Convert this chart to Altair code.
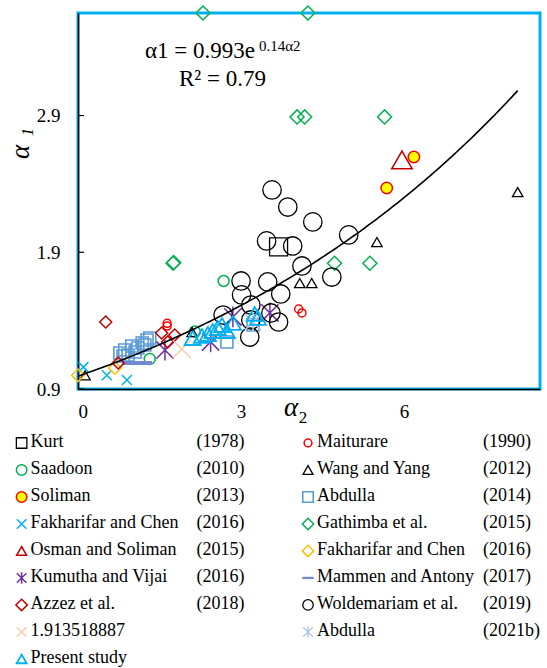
import numpy as np
import pandas as pd
import altair as alt

FONT = "Liberation Serif"

# ---------------- measured (alpha2, alpha1) pairs per source ----------------
KURT_A2 = [3.69]
KURT_A1 = [1.94]

MAITURARE_A2 = [4.06, 4.12, 1.64, 1.64]
MAITURARE_A1 = [1.485, 1.456, 1.38, 1.36]

SAADOON_A2 = [2.68, 1.32, 2.15]
SAADOON_A1 = [1.69, 1.12, 1.32]

WANG_A2 = [8.09, 5.50, 4.08, 4.30, 2.10, 0.13]
WANG_A1 = [2.34, 1.975, 1.675, 1.675, 1.317, 1.0]

SOLIMAN_A2 = [6.18, 5.68]
SOLIMAN_A1 = [2.597, 2.37]

ABDULLA14_A2 = [0.77, 0.86, 0.99, 1.10, 1.18, 1.27, 1.32, 0.83, 0.92, 1.05, 1.23, 2.74, 3.22]
ABDULLA14_A1 = [1.163, 1.185, 1.215, 1.20, 1.236, 1.258, 1.273, 1.141, 1.149, 1.171, 1.222, 1.244, 1.368]

FAKH_X_A2 = [0.10, 0.53, 0.90]
FAKH_X_A1 = [1.06, 1.00, 0.966]

GATHIMBA_A2 = [2.30, 4.23, 4.03, 4.17, 5.64, 1.75, 1.76, 4.72, 5.37]
GATHIMBA_A1 = [3.65, 3.65, 2.89, 2.89, 2.89, 1.82, 1.825, 1.82, 1.82]

OSMAN_A2 = [5.96]
OSMAN_A1 = [2.575]

FAKH_D_A2 = [0.0, 0.68]
FAKH_D_A1 = [1.0, 1.054]

KUMUTHA_A2 = [1.60, 2.44, 2.85, 3.53]
KUMUTHA_A1 = [1.185, 1.244, 1.427, 1.456]

MAMMEN_A2 = [0.99, 1.18]
MAMMEN_A1 = [1.09, 1.09]

AZZEZ_A2 = [0.51, 1.54, 1.78, 1.65, 0.74]
AZZEZ_A1 = [1.39, 1.31, 1.295, 1.244, 1.09]

WOLDE_A2 = [3.57, 3.86, 4.32, 3.47, 3.95, 4.98, 4.12, 4.67, 3.00,
            3.49, 3.01, 3.73, 3.18, 2.67, 3.55, 3.69, 3.18, 3.16]
WOLDE_A1 = [2.356, 2.231, 2.122, 1.983, 1.946, 2.027, 1.80, 1.719, 1.690,
            1.683, 1.588, 1.595, 1.514, 1.441, 1.456, 1.39, 1.405, 1.28]

PEACH_A2 = [1.91]
PEACH_A1 = [1.193]

ABDULLA21_A2 = [3.22]
ABDULLA21_A1 = [1.39]

PRESENT_A2 = [2.11, 2.28, 2.39, 2.48, 2.57, 2.65, 2.74, 2.85, 3.25, 3.31]
PRESENT_A1 = [1.273, 1.288, 1.302, 1.324, 1.346, 1.368, 1.324, 1.383, 1.449, 1.42]

# fitted trend: alpha1 = 0.993 * exp(0.14 * alpha2)
FIT_A = 0.993
FIT_B = 0.14
FIT_RANGE = [0.0, 8.09]

X_TICKS = [0, 3, 6]
Y_TICKS = [0.9, 1.9, 2.9]

# ---------------- marker styles ----------------
X_PATH = "M-1,-1L1,1M-1,1L1,-1"
STAR_PATH = "M-1,-1L1,1M-1,1L1,-1M0,-1.2L0,1.2"
BAR_PATH = "M-1,-0.2L1,-0.2L1,0.2L-1,0.2Z"

SERIES = [
    dict(name="Kurt", year="(1978)", col=0, row=0, a2=KURT_A2, a1=KURT_A1,
         shape="square", stroke="#000000", fill=None, size=324, lsize=110, sw=1.3),
    dict(name="Maiturare", year="(1990)", col=1, row=0, a2=MAITURARE_A2, a1=MAITURARE_A1,
         shape="circle", stroke="#FF0000", fill=None, size=64, lsize=60, sw=1.5),
    dict(name="Saadoon", year="(2010)", col=0, row=1, a2=SAADOON_A2, a1=SAADOON_A1,
         shape="circle", stroke="#00B050", fill=None, size=121, lsize=110, sw=1.5),
    dict(name="Wang and Yang", year="(2012)", col=1, row=1, a2=WANG_A2, a1=WANG_A1,
         shape="triangle-up", stroke="#000000", fill=None, size=110, lsize=100, sw=1.3),
    dict(name="Soliman", year="(2013)", col=0, row=2, a2=SOLIMAN_A2, a1=SOLIMAN_A1,
         shape="circle", stroke="#FF0000", fill="#FFFF00", size=130, lsize=110, sw=1.5),
    dict(name="Abdulla", year="(2014)", col=1, row=2, a2=ABDULLA14_A2, a1=ABDULLA14_A1,
         shape="square", stroke="#5B9BD5", fill=None, size=144, lsize=110, sw=1.6),
    dict(name="Fakharifar and Chen", year="(2016)", col=0, row=3, a2=FAKH_X_A2, a1=FAKH_X_A1,
         shape=X_PATH, stroke="#00B0F0", fill=None, size=100, lsize=90, sw=1.5),
    dict(name="Gathimba et al.", year="(2015)", col=1, row=3, a2=GATHIMBA_A2, a1=GATHIMBA_A1,
         shape="diamond", stroke="#00B050", fill=None, size=196, lsize=130, sw=1.5),
    dict(name="Osman and Soliman", year="(2015)", col=0, row=4, a2=OSMAN_A2, a1=OSMAN_A1,
         shape="triangle-up", stroke="#C00000", fill=None, size=420, lsize=100, sw=1.5),
    dict(name="Fakharifar and Chen", year="(2016)", col=1, row=4, a2=FAKH_D_A2, a1=FAKH_D_A1,
         shape="diamond", stroke="#FFC000", fill=None, size=160, lsize=130, sw=1.5),
    dict(name="Kumutha and Vijai", year="(2016)", col=0, row=5, a2=KUMUTHA_A2, a1=KUMUTHA_A1,
         shape=STAR_PATH, stroke="#7030A0", fill=None, size=300, lsize=90, sw=1.5),
    dict(name="Mammen and Antony", year="(2017)", col=1, row=5, a2=MAMMEN_A2, a1=MAMMEN_A1,
         shape=BAR_PATH, stroke=None, fill="#7289D0", size=400, lsize=130, sw=0),
    dict(name="Azzez et al.", year="(2018)", col=0, row=6, a2=AZZEZ_A2, a1=AZZEZ_A1,
         shape="diamond", stroke="#C00000", fill=None, size=144, lsize=130, sw=1.5),
    dict(name="Woldemariam et al.", year="(2019)", col=1, row=6, a2=WOLDE_A2, a1=WOLDE_A1,
         shape="circle", stroke="#000000", fill=None, size=340, lsize=110, sw=1.3),
    dict(name="1.913518887", year="", col=0, row=7, a2=PEACH_A2, a1=PEACH_A1,
         shape=X_PATH, stroke="#F8CBAD", fill=None, size=324, lsize=90, sw=1.5),
    dict(name="Abdulla", year="(2021b)", col=1, row=7, a2=ABDULLA21_A2, a1=ABDULLA21_A1,
         shape=STAR_PATH, stroke="#B4C7E7", fill=None, size=256, lsize=90, sw=1.5),
    dict(name="Present study", year="", col=0, row=8, a2=PRESENT_A2, a1=PRESENT_A1,
         shape="triangle-up", stroke="#00B0F0", fill=None, size=260, lsize=100, sw=1.8),
]

# ---------------- scales ----------------
XS = alt.Scale(domain=[0, 8.5], nice=False, zero=False)
YS = alt.Scale(domain=[0.9, 3.65], nice=False, zero=False)
X_AXIS = alt.Axis(values=X_TICKS, format="d", title=None, grid=False, ticks=False,
                  tickSize=0, labelPadding=13, labelFont=FONT, labelFontSize=19,
                  labelColor="#000000", domainColor="#000000", domainWidth=1.5)
Y_AXIS = alt.Axis(values=Y_TICKS, format=".1f", title=None, grid=False, ticks=False,
                  tickSize=0, labelPadding=18, labelFont=FONT, labelFontSize=19,
                  labelColor="#000000", domainColor="#000000", domainWidth=1.5)

# legend grid: column index across, row index downwards (below the plot)
LXS = alt.Scale(domain=[0.1969, 1.81], nice=False, zero=False)
LYS = alt.Scale(domain=[-15.93, -2.0], nice=False, zero=False, reverse=True)


def marker(s, size):
    kw = dict(shape=s["shape"], size=size, opacity=1)
    if s["fill"] is not None and s["stroke"] is not None:
        kw.update(filled=True, fill=s["fill"], stroke=s["stroke"], strokeWidth=s["sw"])
    elif s["fill"] is not None:
        kw.update(filled=True, fill=s["fill"], strokeWidth=0)
    else:
        kw.update(filled=False, stroke=s["stroke"], strokeWidth=s["sw"])
    return kw


# ---------------- plot layers ----------------
plot_layers = []
for s in SERIES:
    df = pd.DataFrame({"a2": s["a2"], "a1": s["a1"]})
    plot_layers.append(
        alt.Chart(df).mark_point(**marker(s, s["size"])).encode(
            x=alt.X("a2:Q", scale=XS, axis=X_AXIS),
            y=alt.Y("a1:Q", scale=YS, axis=Y_AXIS),
        )
    )

curve_x = np.linspace(FIT_RANGE[0], FIT_RANGE[1], 160)
curve_df = pd.DataFrame({"a2": curve_x, "a1": FIT_A * np.exp(FIT_B * curve_x)})
plot_layers.append(
    alt.Chart(curve_df).mark_line(color="#000000", strokeWidth=1.6).encode(
        x=alt.X("a2:Q", scale=XS, axis=X_AXIS),
        y=alt.Y("a1:Q", scale=YS, axis=Y_AXIS),
        order="a2:Q",
    )
)

# inward tick marks on the vertical axis
plot_layers.append(
    alt.Chart(pd.DataFrame({"v": Y_TICKS})).mark_rule(color="#000000", strokeWidth=1.2).encode(
        y=alt.Y("v:Q", scale=YS, axis=Y_AXIS),
        x=alt.value(0),
        x2=alt.value(6),
    )
)

main = alt.layer(*plot_layers)

# ---------------- legend ----------------
legend_layers = []
for s in SERIES:
    ldf = pd.DataFrame({"c": [s["col"]], "r": [s["row"]]})
    legend_layers.append(
        alt.Chart(ldf).mark_point(**marker(s, s["lsize"])).encode(
            x=alt.X("c:Q", scale=LXS, axis=None),
            y=alt.Y("r:Q", scale=LYS, axis=None),
        )
    )

lab_df = pd.DataFrame({
    "c": [s["col"] for s in SERIES],
    "r": [s["row"] for s in SERIES],
    "label": [s["name"] for s in SERIES],
    "year": [s["year"] for s in SERIES],
})
legend_layers.append(
    alt.Chart(lab_df).mark_text(font=FONT, fontSize=18, align="left", baseline="middle",
                                dx=9, dy=-1, color="#000000").encode(
        x=alt.X("c:Q", scale=LXS, axis=None),
        y=alt.Y("r:Q", scale=LYS, axis=None),
        text="label:N",
    )
)
legend_layers.append(
    alt.Chart(lab_df).mark_text(font=FONT, fontSize=18, align="left", baseline="middle",
                                dx=175, dy=-1, color="#000000").encode(
        x=alt.X("c:Q", scale=LXS, axis=None),
        y=alt.Y("r:Q", scale=LYS, axis=None),
        text="year:N",
    )
)
legend = alt.layer(*legend_layers)


# ---------------- text annotations ----------------
def label(text, x, y, size, italic=False, angle=0, align="left", baseline="alphabetic"):
    kw = dict(font=FONT, fontSize=size, align=align, baseline=baseline, color="#000000")
    if italic:
        kw["fontStyle"] = "italic"
    if angle:
        kw["angle"] = angle
    return alt.Chart(pd.DataFrame({"t": [text]})).mark_text(**kw).encode(
        x=alt.value(x), y=alt.value(y), text="t:N"
    )


notes = alt.layer(
    label("α1 = 0.993e", 67, 45, 23),
    label("0.14α2", 181, 38, 15),
    label("R² = 0.79", 101, 73, 23),
    label("α", -57, 139, 27, italic=True, angle=270, align="center", baseline="middle"),
    label("1", -50, 119, 17, italic=True, angle=270, align="center", baseline="middle"),
    label("α", 213, 395, 27, italic=True, align="center", baseline="middle"),
    label("2", 225, 405, 17, align="center", baseline="middle"),
)

chart = (
    alt.layer(main, legend, notes)
    .resolve_scale(x="independent", y="independent")
    .properties(
        width=462,
        height=376,
        padding={"left": 78, "top": 13, "right": 7, "bottom": 279},
        autosize=alt.AutoSizeParams(type="none"),
        background="#FFFFFF",
    )
    .configure_view(stroke="#00B0F0", strokeWidth=3)
)

chart.save("out.html", embed_options={"renderer": "svg", "actions": False})
